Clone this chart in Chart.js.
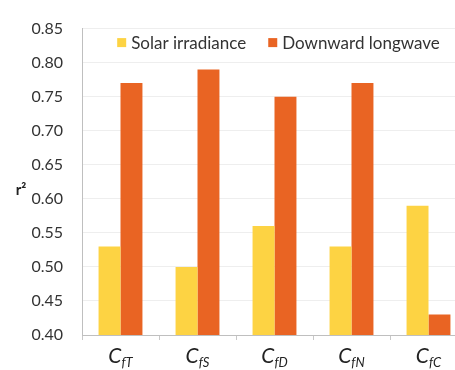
<!DOCTYPE html>
<html lang="en">
<head>
<meta charset="UTF-8">
<title>r2 by cloud fraction</title>
<script src="https://cdn.jsdelivr.net/npm/chart.js@4.4.1/dist/chart.umd.min.js"></script>
<style>
  body { margin: 0; background: #fff; overflow: hidden; }
</style>
</head>
<body>
<canvas id="chart" width="470" height="370"></canvas>
<script>
const subscripts = ['fT', 'fS', 'fD', 'fN', 'fC'];
const categories = subscripts.map(s => 'C' + s);
const solar      = [0.53, 0.50, 0.56, 0.53, 0.59];
const longwave   = [0.77, 0.79, 0.75, 0.77, 0.43];
const axisTitle  = 'r²';

const FONT = 'Lato, "Open Sans", sans-serif';

// category labels are C with an italic subscript, so draw them by hand;
// the legend sits inside the plot under the top gridline, and the
// y title stays upright
const extras = {
  id: 'extras',
  afterDraw(chart) {
    const ctx = chart.ctx;
    const x = chart.scales.x;
    const area = chart.chartArea;
    ctx.save();

    // x labels
    const y0 = area.bottom + 28;
    ctx.fillStyle = '#222';
    ctx.textBaseline = 'alphabetic';
    categories.forEach((c, i) => {
      const cx = x.getPixelForValue(i);
      ctx.font = 'italic 21px ' + FONT;
      const wC = ctx.measureText('C').width;
      ctx.font = 'italic 13px ' + FONT;
      const wS = ctx.measureText(subscripts[i]).width;
      const left = cx - (wC + wS) / 2;
      ctx.font = 'italic 21px ' + FONT;
      ctx.fillText('C', left, y0);
      ctx.font = 'italic 13px ' + FONT;
      ctx.fillText(subscripts[i], left + wC, y0 + 4);
    });

    // legend
    const sets = chart.data.datasets;
    ctx.font = '17px ' + FONT;
    const box = 9, gapBox = 5, gapItem = 22;
    const widths = sets.map(d => box + gapBox + ctx.measureText(d.label).width);
    const total = widths.reduce((a, b) => a + b, 0) + gapItem * (sets.length - 1);
    let lx = (area.left + area.right) / 2 + 4 - total / 2;
    const ly = area.top + 14;
    ctx.textBaseline = 'middle';
    sets.forEach((d, i) => {
      ctx.fillStyle = d.backgroundColor;
      ctx.fillRect(lx, ly - box / 2, box, box);
      ctx.fillStyle = '#333';
      ctx.fillText(d.label, lx + box + gapBox, ly + 1);
      lx += widths[i] + gapItem;
    });

    // y title
    ctx.font = 'bold 15px ' + FONT;
    ctx.textAlign = 'center';
    ctx.fillStyle = '#222';
    ctx.fillText(axisTitle, 21, (area.top + area.bottom) / 2 + 8);
    ctx.restore();
  }
};

new Chart(document.getElementById('chart'), {
  type: 'bar',
  data: {
    labels: categories,
    datasets: [
      { label: 'Solar irradiance', data: solar, backgroundColor: '#FDD343' },
      { label: 'Downward longwave', data: longwave, backgroundColor: '#E96423' }
    ]
  },
  options: {
    responsive: false,
    animation: false,
    layout: { autoPadding: false, padding: { top: 16, right: 3, bottom: 30, left: 0 } },
    datasets: { bar: { barPercentage: 1, categoryPercentage: 0.57 } },
    plugins: {
      tooltip: { enabled: false },
      legend: { display: false }
    },
    scales: {
      x: {
        ticks: { display: false },
        grid: { drawOnChartArea: false, offset: true, tickLength: 5, color: '#C8C8C8' },
        border: { color: '#BFBFBF' }
      },
      y: {
        min: 0.40,
        max: 0.85,
        afterFit: s => { s.width = 82; },
        ticks: {
          stepSize: 0.05,
          padding: 19,
          color: '#333',
          font: { family: FONT, size: 16 },
          callback: v => v.toFixed(2)
        },
        grid: { color: '#EEEEEE', drawTicks: false },
        border: { color: '#BFBFBF' }
      }
    }
  },
  plugins: [extras]
});
</script>
</body>
</html>
